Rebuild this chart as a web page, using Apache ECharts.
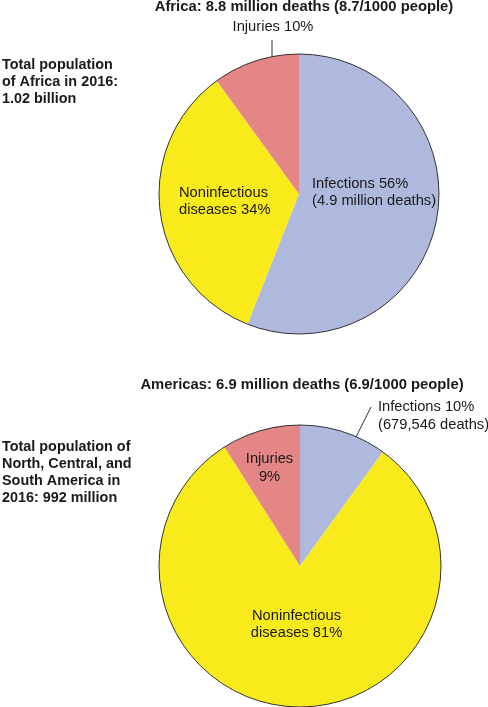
<!DOCTYPE html>
<html>
<head>
<meta charset="utf-8">
<script src="https://cdn.jsdelivr.net/npm/echarts@6/dist/echarts.min.js"></script>
<style>
  html, body { margin: 0; padding: 0; background: #fff; }
  #main { width: 488px; height: 707px; }
</style>
</head>
<body>
<div id="main"></div>
<script>
// data
var causes = ['Infections', 'Noninfectious diseases', 'Injuries'];
var africaPct = [56, 34, 10];
var americasPct = [10, 81, 9];
var africaLabels = ['Infections 56%\n(4.9 million deaths)', 'Noninfectious\ndiseases 34%', 'Injuries 10%'];
var americasLabels = ['Infections 10%\n(679,546 deaths)', 'Noninfectious\ndiseases 81%', 'Injuries\n9%'];
var africaTitle = 'Africa: 8.8 million deaths (8.7/1000 people)';
var americasTitle = 'Americas: 6.9 million deaths (6.9/1000 people)';
var africaNote = 'Total population\nof Africa in 2016:\n1.02 billion';
var americasNote = 'Total population of\nNorth, Central, and\nSouth America in\n2016: 992 million';

var colors = ['#afb8dd', '#f9ea1c', '#e48586'];
var ink = '#1a1a1a';
var font = 'Arial, "Liberation Sans", Helvetica, sans-serif';

// label placement: [x, y, align, outside]
var africaLabelPos = [[312, 192.5, 'left', false], [179, 201.5, 'left', false], [273, 27, 'center', true]];
var americasLabelPos = [[378, 416, 'left', true], [296.5, 624.5, 'center', false], [269.5, 468, 'center', false]];
var africaLines = { 2: [[272, 60], [272, 50], [272, 40]] };
var americasLines = { 0: [[347, 455], [359, 431], [371, 407]] };

var myChart = echarts.init(document.getElementById('main'));

function buildData(vals, labels, pos) {
  var out = [];
  for (var i = 0; i < vals.length; i++) {
    out.push({
      name: causes[i],
      value: vals[i],
      itemStyle: { color: colors[i] },
      label: { formatter: labels[i], position: pos[i][3] ? 'outside' : 'inside' },
      labelLine: { show: pos[i][3] }
    });
  }
  return out;
}

function pieSeries(vals, labels, pos, lines, center, radius) {
  return {
    type: 'pie',
    center: center,
    radius: radius,
    startAngle: 90,
    clockwise: true,
    silent: true,
    avoidLabelOverlap: false,
    itemStyle: { borderWidth: 0 },
    label: {
      show: true,
      color: ink,
      fontFamily: font,
      fontSize: 14.7,
      lineHeight: 17.5
    },
    labelLine: { lineStyle: { color: '#333', width: 1 } },
    labelLayout: function (p) {
      var q = pos[p.dataIndex];
      var res = { x: q[0], y: q[1], align: q[2], verticalAlign: 'middle' };
      if (lines[p.dataIndex]) res.labelLinePoints = lines[p.dataIndex];
      return res;
    },
    emphasis: { disabled: true },
    data: buildData(vals, labels, pos)
  };
}

function outline(vals, center, radius) {
  var total = 0;
  for (var i = 0; i < vals.length; i++) total += vals[i];
  return {
    type: 'pie',
    center: center,
    radius: radius,
    silent: true,
    label: { show: false },
    labelLine: { show: false },
    emphasis: { disabled: true },
    itemStyle: { color: 'rgba(0,0,0,0)', borderColor: '#333', borderWidth: 1 },
    data: [{ value: total }]
  };
}

var option = {
  animation: false,
  graphic: [
    { type: 'text', x: 304, y: 7, style: { text: africaTitle, font: 'bold 14.8px ' + font, fill: ink, textAlign: 'center', textVerticalAlign: 'middle' } },
    { type: 'text', x: 302, y: 385, style: { text: americasTitle, font: 'bold 14.8px ' + font, fill: ink, textAlign: 'center', textVerticalAlign: 'middle' } },
    { type: 'text', x: 2, y: 57, style: { text: africaNote, font: 'bold 14.4px ' + font, lineHeight: 17, fill: ink, textAlign: 'left', textVerticalAlign: 'top' } },
    { type: 'text', x: 2, y: 439, style: { text: americasNote, font: 'bold 14.4px ' + font, lineHeight: 17, fill: ink, textAlign: 'left', textVerticalAlign: 'top' } }
  ],
  series: [
    pieSeries(africaPct, africaLabels, africaLabelPos, africaLines, [299, 194], 140),
    outline(africaPct, [299, 194], 140),
    pieSeries(americasPct, americasLabels, americasLabelPos, americasLines, [300, 566], 141),
    outline(americasPct, [300, 566], 141)
  ]
};
myChart.setOption(option);
</script>
</body>
</html>
